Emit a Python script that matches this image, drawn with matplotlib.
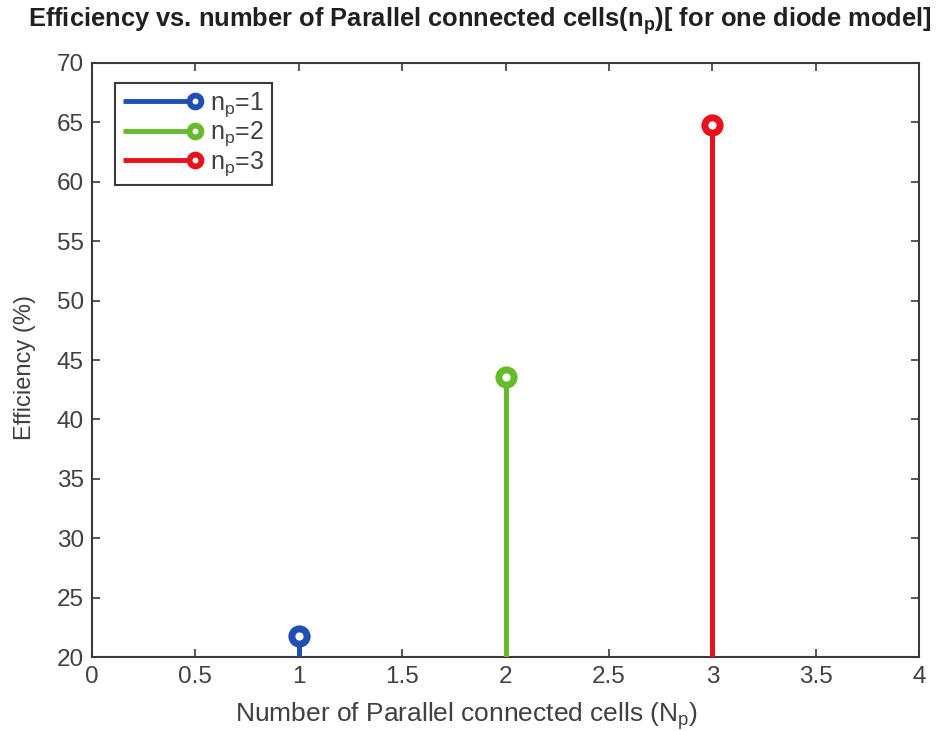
import matplotlib.pyplot as plt
from matplotlib.lines import Line2D
from matplotlib.legend_handler import HandlerLine2D

plt.rcParams['font.family'] = ['Liberation Sans', 'DejaVu Sans']
plt.rcParams['mathtext.default'] = 'regular'

# efficiency for each number of parallel cells
cells = [1, 2, 3]
efficiency = [21.8, 43.6, 64.8]
labels = [r'n$_{p}$=1', r'n$_{p}$=2', r'n$_{p}$=3']
colors = ['#1f4fb5', '#66bb2a', '#e8121c']

xticks = [0, 0.5, 1, 1.5, 2, 2.5, 3, 3.5, 4]
xticklabels = ['0', '0.5', '1', '1.5', '2', '2.5', '3', '3.5', '4']
yticks = [20, 25, 30, 35, 40, 45, 50, 55, 60, 65, 70]

axis_col = '#3a3a3a'
text_col = '#404040'


class StemHandler(HandlerLine2D):
    # line with the circle sitting on its right end, like a matlab stem legend
    def create_artists(self, legend, orig_handle, xdescent, ydescent,
                       width, height, fontsize, trans):
        y = height / 2 - ydescent
        c = orig_handle.get_color()
        ln = Line2D([-xdescent, width - xdescent], [y, y], color=c, lw=3.5,
                    solid_capstyle='butt')
        mk = Line2D([width - xdescent], [y], marker='o', markersize=8.5,
                    markerfacecolor='white', markeredgecolor=c,
                    markeredgewidth=4.2, linestyle='none')
        ln.set_transform(trans)
        mk.set_transform(trans)
        return [ln, mk]


fig = plt.figure(figsize=(9.39, 7.31), dpi=100)
ax = fig.add_axes([0.098, 0.101, 0.881, 0.813])

handles = []
for x, y, lab, c in zip(cells, efficiency, labels, colors):
    ax.vlines(x, 20, y, color=c, lw=3.6, zorder=3)
    ax.plot(x, y, 'o', markersize=11, markerfacecolor='white',
            markeredgecolor=c, markeredgewidth=5, zorder=4)
    handles.append(Line2D([], [], color=c, label=lab))

ax.set_xlim(0, 4)
ax.set_ylim(20, 70)
ax.set_xticks(xticks)
ax.set_xticklabels(xticklabels)
ax.set_yticks(yticks)
ax.tick_params(direction='in', length=6, width=1.2, top=True, right=True,
               colors=axis_col, labelcolor=text_col, labelsize=17.5, pad=6)
for s in ax.spines.values():
    s.set_color(axis_col)
    s.set_linewidth(1.5)

ax.set_xlabel(r'Number of Parallel connected cells (N$_{p}$)', fontsize=19,
              color=text_col)
ax.xaxis.set_label_coords(0.453, -0.072)
ax.set_ylabel('Efficiency (%)', fontsize=17, color=text_col)
ax.yaxis.set_label_coords(-0.068, 0.487)
ax.set_title(r'Efficiency vs. number of Parallel connected cells(n$_{p}$)[ for one diode model]',
             fontsize=18.4, fontweight='bold', color='#202020', x=0.469,
             pad=26)

leg = ax.legend(handles=handles, loc='upper left', fontsize=18,
                handler_map={Line2D: StemHandler()}, handlelength=2.9,
                handletextpad=0.6, labelspacing=0.02, borderpad=0.3,
                borderaxespad=0, fancybox=False, framealpha=1,
                bbox_to_anchor=(0.028, 0.966))
leg.get_frame().set_edgecolor(axis_col)
leg.get_frame().set_linewidth(1.5)
for t in leg.get_texts():
    t.set_color(text_col)

plt.savefig('out.png', dpi=100)
